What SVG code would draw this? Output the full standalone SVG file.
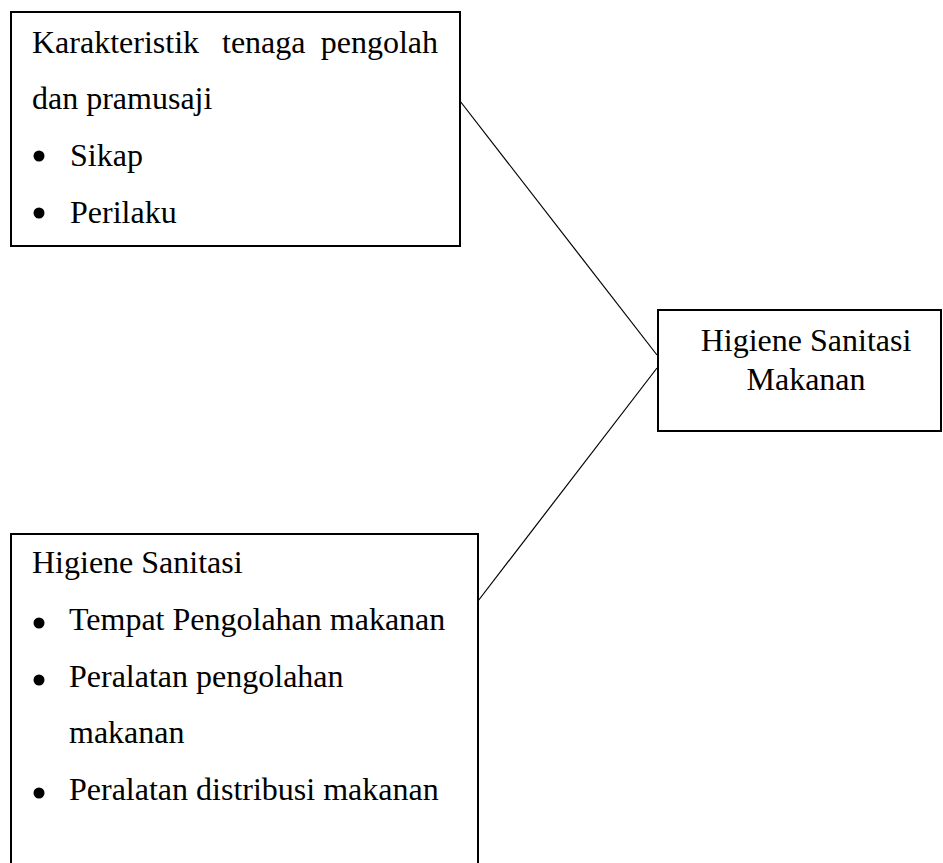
<svg xmlns="http://www.w3.org/2000/svg" width="943" height="863" viewBox="0 0 943 863">
<style>
.box{fill:#fff;stroke:#000;stroke-width:2}
.t{font-family:"Liberation Serif","Times New Roman",serif;font-size:32px;fill:#000}
.c{text-anchor:middle}
.conn{stroke:#000;stroke-width:1.2;fill:none}
</style>
<rect width="943" height="863" fill="#fff"/>
<g id="connectors">
<line class="conn" x1="460" y1="101" x2="657" y2="355"/>
<line class="conn" x1="657" y1="368" x2="478" y2="601"/>
</g>
<g id="node-karakteristik">
<rect class="box" x="11" y="12" width="449" height="234"/>
<text class="t" x="32" y="53">Karakteristik</text>
<text class="t" x="222" y="53">tenaga</text>
<text class="t" x="438" y="53" text-anchor="end">pengolah</text>
<text class="t" x="32" y="109">dan pramusaji</text>
<circle cx="39" cy="156" r="5.5"/>
<text class="t" x="70" y="166">Sikap</text>
<circle cx="39" cy="213" r="5.5"/>
<text class="t" x="70" y="223">Perilaku</text>
</g>
<g id="node-higiene-makanan">
<rect class="box" x="658" y="310" width="283" height="121"/>
<text class="t c" x="806" y="351">Higiene Sanitasi</text>
<text class="t c" x="806" y="390">Makanan</text>
</g>
<g id="node-higiene-sanitasi">
<rect class="box" x="11" y="534" width="467" height="340"/>
<text class="t" x="32" y="573">Higiene Sanitasi</text>
<circle cx="39" cy="623" r="5.5"/>
<text class="t" x="69" y="630">Tempat Pengolahan makanan</text>
<circle cx="39" cy="680" r="5.5"/>
<text class="t" x="69" y="687">Peralatan pengolahan</text>
<text class="t" x="69" y="743">makanan</text>
<circle cx="39" cy="793" r="5.5"/>
<text class="t" x="69" y="800">Peralatan distribusi makanan</text>
</g>
</svg>
